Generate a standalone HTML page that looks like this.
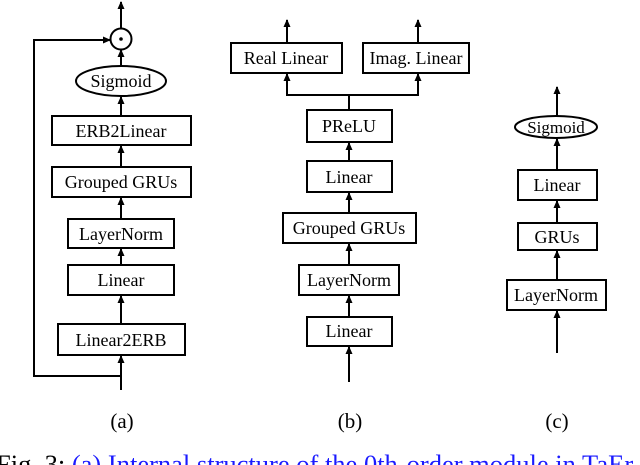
<!DOCTYPE html>
<html><head><meta charset="utf-8"><style>
html,body{margin:0;padding:0;background:#fff;overflow:hidden}
svg{display:block}
text{font-family:"Liberation Serif",serif;fill:#000}
</style></head><body>
<svg width="640" height="465" viewBox="0 0 640 465" xmlns="http://www.w3.org/2000/svg">
<defs><marker id="ah" markerWidth="8" markerHeight="8" refX="7" refY="4" orient="auto" markerUnits="userSpaceOnUse"><path d="M0,0.5 L8,4 L0,7.5 Z" fill="#000"/></marker></defs>
<g stroke="#000" stroke-width="2" fill="none">
<line x1="121" y1="390" x2="121" y2="356" marker-end="url(#ah)"/>
<polyline points="121,376 34,376 34,40 110,40" marker-end="url(#ah)"/>
<rect x="58" y="324" width="127" height="31" fill="#fff"/>
<line x1="121" y1="324" x2="121" y2="296" marker-end="url(#ah)"/>
<rect x="68" y="265" width="106" height="30"/>
<line x1="121" y1="265" x2="121" y2="249" marker-end="url(#ah)"/>
<rect x="68" y="219" width="106" height="29"/>
<line x1="121" y1="219" x2="121" y2="198" marker-end="url(#ah)"/>
<rect x="52" y="167" width="139" height="30"/>
<line x1="121" y1="167" x2="121" y2="146" marker-end="url(#ah)"/>
<rect x="52" y="116" width="139" height="29"/>
<line x1="121" y1="116" x2="121" y2="97" marker-end="url(#ah)"/>
<ellipse cx="121" cy="81" rx="45" ry="15"/>
<line x1="121" y1="66" x2="121" y2="50" marker-end="url(#ah)"/>
<circle cx="121" cy="39" r="10.5"/>
<line x1="121" y1="28" x2="121" y2="2" marker-end="url(#ah)"/>
<line x1="349" y1="382" x2="349" y2="347" marker-end="url(#ah)"/>
<rect x="307" y="317" width="85" height="29"/>
<line x1="349" y1="317" x2="349" y2="296" marker-end="url(#ah)"/>
<rect x="299" y="265" width="100" height="30"/>
<line x1="349" y1="265" x2="349" y2="244" marker-end="url(#ah)"/>
<rect x="283" y="213" width="133" height="30"/>
<line x1="349" y1="213" x2="349" y2="193" marker-end="url(#ah)"/>
<rect x="307" y="161" width="85" height="31"/>
<line x1="349" y1="161" x2="349" y2="143" marker-end="url(#ah)"/>
<rect x="307" y="110" width="85" height="32"/>
<polyline points="349,110 349,95 287,95 287,74" marker-end="url(#ah)"/>
<polyline points="349,95 418,95 418,74" marker-end="url(#ah)"/>
<rect x="231" y="43" width="111" height="30"/>
<rect x="363" y="43" width="106" height="30"/>
<line x1="287" y1="43" x2="287" y2="20" marker-end="url(#ah)"/>
<line x1="418" y1="43" x2="418" y2="20" marker-end="url(#ah)"/>
<line x1="557" y1="353" x2="557" y2="311" marker-end="url(#ah)"/>
<rect x="507" y="280" width="99" height="30"/>
<line x1="557" y1="280" x2="557" y2="251" marker-end="url(#ah)"/>
<rect x="518" y="223" width="79" height="27"/>
<line x1="557" y1="223" x2="557" y2="201" marker-end="url(#ah)"/>
<rect x="518" y="170" width="79" height="30"/>
<line x1="557" y1="170" x2="557" y2="139" marker-end="url(#ah)"/>
<ellipse cx="556" cy="127" rx="41" ry="11"/>
<line x1="557" y1="116" x2="557" y2="87" marker-end="url(#ah)"/>
</g>
<circle cx="121" cy="39" r="1.8" fill="#000"/>
<g font-size="18" text-anchor="middle">
<text x="121" y="346">Linear2ERB</text>
<text x="121" y="286">Linear</text>
<text x="121" y="240">LayerNorm</text>
<text x="121" y="188">Grouped GRUs</text>
<text x="121" y="137">ERB2Linear</text>
<text x="121" y="87">Sigmoid</text>
<text x="349" y="337">Linear</text>
<text x="349" y="286">LayerNorm</text>
<text x="349" y="234">Grouped GRUs</text>
<text x="349" y="183">Linear</text>
<text x="349" y="132">PReLU</text>
<text x="286" y="64">Real Linear</text>
<text x="416" y="64">Imag. Linear</text>
<text x="556" y="301">LayerNorm</text>
<text x="557" y="243">GRUs</text>
<text x="557" y="191">Linear</text>
<text x="556" y="133" font-size="17">Sigmoid</text>
</g>
<g font-size="21" text-anchor="middle">
<text x="122" y="428">(a)</text>
<text x="350" y="428">(b)</text>
<text x="557" y="428">(c)</text>
</g>
<text x="-4" y="473" font-size="26.5">Fig. 3: <tspan fill="#1a1aff">(a) Internal structure of the 0th-order module in TaEr</tspan></text>
</svg>
</body></html>
